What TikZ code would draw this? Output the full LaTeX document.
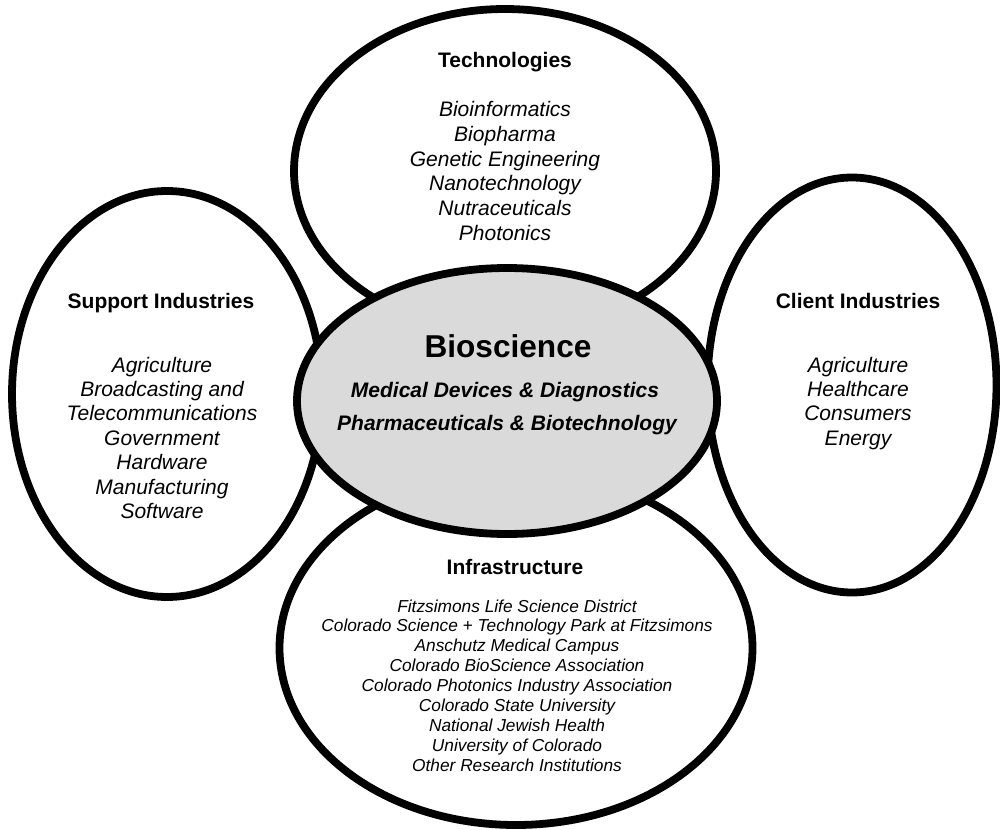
\documentclass[tikz,border=0pt]{standalone}
\usepackage{fontspec}
\setmainfont{Liberation Sans}
\usetikzlibrary{shapes.geometric}
\definecolor{centergray}{RGB}{218,218,218}
\newcommand\myitem{\fontsize{21}{24}\selectfont\itshape}
\newcommand\mysmall{\fontsize{17.3}{20}\selectfont\itshape}
\newcommand\myhead{\fontsize{21}{24}\selectfont\bfseries}
\begin{document}
\begin{tikzpicture}[x=1pt,y=-1pt,
  bubble/.style={ellipse, draw=black, line width=7.8pt, fill=white, inner sep=0pt},
  core/.style={bubble, fill=centergray},
  head/.style={font=\myhead, anchor=base, inner sep=0pt},
  item/.style={font=\myitem, anchor=base, inner sep=0pt},
  smallitem/.style={font=\mysmall, anchor=base, inner sep=0pt}]
\useasboundingbox (0,0) rectangle (1000,829);
% outer bubbles
\node[bubble, minimum width=422pt, minimum height=324pt] (tech) at (505,171) {};
\node[bubble, minimum width=310pt, minimum height=406pt] (support) at (167,394) {};
\node[bubble, minimum width=289pt, minimum height=415pt] (client) at (852,385) {};
\node[bubble, minimum width=473pt, minimum height=354pt] (infra) at (516,648) {};
% center bubble
\node[core, minimum width=420pt, minimum height=266pt] (bio) at (507,401) {};
% Technologies
\node[head] (techh) at (505,68) {Technologies};
\foreach \t [count=\i from 0] in {Bioinformatics,Biopharma,Genetic Engineering,Nanotechnology,Nutraceuticals,Photonics}
  \node[item] (tech\i) at (505,117+24.6*\i) {\t};
% Support Industries
\node[head] (supph) at (161,308) {Support Industries};
\foreach \t [count=\i from 0] in {Agriculture,Broadcasting and,Telecommunications,Government,Hardware,Manufacturing,Software}
  \node[item] (supp\i) at (162,372+24.4*\i) {\t};
% Client Industries
\node[head] (clih) at (858,308) {Client Industries};
\foreach \t [count=\i from 0] in {Agriculture,Healthcare,Consumers,Energy}
  \node[item] (cli\i) at (858,372+24.4*\i) {\t};
% Bioscience
\node[font=\fontsize{31.6}{36}\selectfont\bfseries, anchor=base, inner sep=0pt] (bioh) at (508,357) {Bioscience};
\node[font=\fontsize{21}{24}\selectfont\bfseries\itshape, anchor=base, inner sep=0pt] (bio1) at (505,397) {Medical Devices \& Diagnostics};
\node[font=\fontsize{21}{24}\selectfont\bfseries\itshape, anchor=base, inner sep=0pt] (bio2) at (507,430) {Pharmaceuticals \& Biotechnology};
% Infrastructure
\node[head] (infh) at (515,574) {Infrastructure};
\foreach \t [count=\i from 0] in {Fitzsimons Life Science District,Colorado Science + Technology Park at Fitzsimons,Anschutz Medical Campus,Colorado BioScience Association,Colorado Photonics Industry Association,Colorado State University,National Jewish Health,University of Colorado,Other Research Institutions}
  \node[smallitem] (inf\i) at (517,612+19.9*\i) {\t};
\end{tikzpicture}
\end{document}
